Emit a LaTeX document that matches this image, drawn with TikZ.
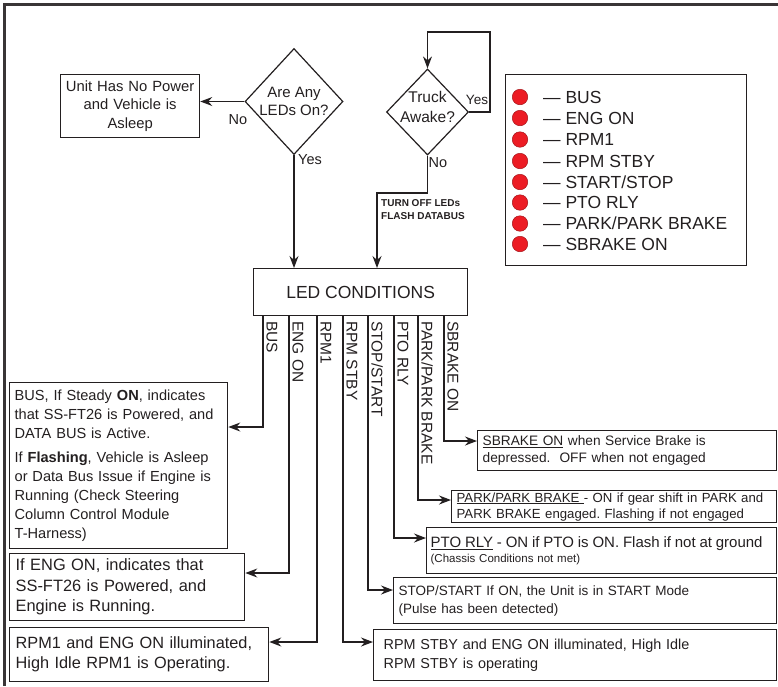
\documentclass[tikz,border=0pt]{standalone}
\usepackage{fontspec}
\setmainfont{Liberation Sans}
\usetikzlibrary{shapes.geometric,arrows.meta}
\definecolor{ink}{HTML}{231F20}
\definecolor{ledred}{HTML}{EC1C24}
\newcommand\fsz[2]{\fontsize{#1}{#2}\selectfont}
\frenchspacing
\begin{document}
\begin{tikzpicture}[x=1pt,y=-1pt,
  every node/.style={text=ink},
  box/.style={draw=ink, line width=1.3pt, anchor=north west, align=left, inner ysep=0pt},
  conn/.style={draw=ink, line width=1.2pt},
  arr/.style={conn, -{Stealth[length=12pt,width=9pt,inset=4pt]}},
  dia/.style={draw=ink, line width=1.2pt, diamond, inner sep=0pt},
  led/.style={circle, fill=ledred, draw=ledred!70!black, line width=0.5pt, minimum size=15.5pt, inner sep=0pt},
  ledlab/.style={anchor=west, inner sep=0pt, font=\fsz{17.5}{20}},
  rot/.style={rotate=-90, anchor=south west, inner sep=0pt, text depth=0pt, font=\fsz{15.5}{18}},
  lbl/.style={inner sep=0pt, font=\fsz{14.5}{17}},
]
\useasboundingbox (0,0) rectangle (778,686);
% frame
\draw[line width=3pt, draw=ink!90] (4.5,686) -- (4.5,4.5) -- (778,4.5);

% decision 1
\node[dia, minimum width=98pt, minimum height=106pt,
  label={[font=\fsz{15}{18.5}, align=center, text=ink]center:Are Any\\LEDs On?}] (d1) at (294,101.5) {};
\node[box, text width=129pt, inner xsep=5pt, minimum height=63pt, align=center, font=\fsz{14.8}{18.5}] (unit) at (60,74) {Unit Has No Power\\and Vehicle is\\Asleep};
\draw[arr] (d1.west) -- (d1.west -| unit.east);
\node[lbl] (no1) at (238,120) {No};
\node[lbl] (yes1) at (310,160) {Yes};

% decision 2
\node[dia, minimum width=82pt, minimum height=86pt,
  label={[font=\fsz{15.5}{20}, align=center, text=ink, yshift=5pt]center:Truck\\Awake?}] (d2) at (427.5,112) {};
\coordinate (loopA) at (490,32);
\draw[arr] (d2.east) -| (loopA) -| (d2.north);
\node[lbl, font=\fsz{13.5}{16}] (yes2) at (477,100) {Yes};
\node[lbl] (no2) at (438,163) {No};
\coordinate (turn) at (377,193);
\node[anchor=north west, inner sep=0pt, align=left, font=\bfseries\fsz{10}{13}] (turntxt) at (381,199.5) {TURN OFF LEDs\\FLASH DATABUS};

% LED conditions
\node[box, minimum width=214pt, minimum height=47pt, align=center, font=\fsz{17.5}{20}] (ledc) at (253,268) {LED CONDITIONS};
\draw[arr] (d1.south) -- (d1.south |- ledc.north);
\draw[arr] (d2.south) |- (turn) -- (turn |- ledc.north);

% legend
\node[draw=ink, line width=1.3pt, anchor=north west, minimum width=241pt, minimum height=191pt] (legend) at (505,74) {};
\node[led] (led1) at (520,97) {};   \node[ledlab] (t1) at (543,97) {— BUS};
\node[led] (led2) at (520,118) {};  \node[ledlab] (t2) at (543,118) {— ENG ON};
\node[led] (led3) at (520,139.5) {};\node[ledlab] (t3) at (543,139.5) {— RPM1};
\node[led] (led4) at (520,161) {};  \node[ledlab] (t4) at (543,161) {— RPM STBY};
\node[led] (led5) at (520,182) {};  \node[ledlab] (t5) at (543,182) {— START/STOP};
\node[led] (led6) at (520,202.5) {};\node[ledlab] (t6) at (543,202.5) {— PTO RLY};
\node[led] (led7) at (520,223.5) {};\node[ledlab] (t7) at (543,223.5) {— PARK/PARK BRAKE};
\node[led] (led8) at (520,244) {};  \node[ledlab] (t8) at (543,244) {— SBRAKE ON};

% result boxes
\node[box, text width=208pt, inner xsep=5pt, minimum height=166pt, font=\fsz{14.6}{19}] (bus) at (9,382)
 {BUS, If Steady \textbf{ON}, indicates\\that SS-FT26 is Powered, and\\DATA BUS is Active.\\[5pt]If \textbf{Flashing}, Vehicle is Asleep\\or Data Bus Issue if Engine is\\Running (Check Steering\\Column Control Module\\T-Harness)};
\node[box, text width=223pt, inner xsep=6pt, minimum height=67pt, font=\fsz{16.4}{20.5}] (eng) at (9,553)
 {If ENG ON, indicates that\\SS-FT26 is Powered, and\\Engine is Running.};
\node[box, text width=247pt, inner xsep=6pt, minimum height=54pt, font=\fsz{16.3}{20}] (rpm1) at (9,627)
 {RPM1 and ENG ON illuminated,\\High Idle RPM1 is Operating.};
\node[box, text width=383pt, inner xsep=10pt, minimum height=51pt, font=\fsz{14.4}{19}] (stby) at (373,629)
 {RPM STBY and ENG ON illuminated, High Idle\\RPM STBY is operating};
\node[box, text width=373pt, inner xsep=5pt, minimum height=46pt, font=\fsz{13.5}{18}] (stop) at (393,577)
 {STOP/START If ON, the Unit is in START Mode\\(Pulse has been detected)};
\node[box, text width=342pt, inner xsep=4pt, minimum height=46pt, font=\fsz{11.5}{14.5}] (pto) at (426,527)
 {{\fsz{15}{14.5}\underline{PTO RLY} - ON if PTO is ON. Flash if not at ground}\\(Chassis Conditions not met)};
\node[box, text width=315pt, inner xsep=5pt, minimum height=32pt, font=\fsz{13.2}{16}] (park) at (451,490)
 {\underline{PARK/PARK BRAKE\ }- ON if gear shift in PARK and\\PARK BRAKE engaged. Flashing if not engaged};
\node[box, text width=289pt, inner xsep=5pt, minimum height=40pt, font=\fsz{13.7}{17}] (sbrake) at (477,430)
 {\underline{SBRAKE ON} when Service Brake is\\depressed.\ \ OFF when not engaged};

% branches
\coordinate (b1) at (263,427);
\coordinate (b2) at (289,573);
\coordinate (b3) at (317,642);
\coordinate (b4) at (343,642);
\coordinate (b5) at (368,590);
\coordinate (b6) at (394,538);
\coordinate (b7) at (418,500);
\coordinate (b8) at (444,441);
\draw[arr] (ledc.south -| b1) |- (bus.east |- b1);
\draw[arr] (ledc.south -| b2) |- (eng.east |- b2);
\draw[arr] (ledc.south -| b3) |- (rpm1.east |- b3);
\draw[arr] (ledc.south -| b4) |- (stby.west |- b4);
\draw[arr] (ledc.south -| b5) |- (stop.west |- b5);
\draw[arr] (ledc.south -| b6) |- (pto.west |- b6);
\draw[arr] (ledc.south -| b7) |- (park.west |- b7);
\draw[arr] (ledc.south -| b8) |- (sbrake.west |- b8);

\node[rot] (r1) at (266.5,321) {BUS};
\node[rot] (r2) at (292.5,321) {ENG ON};
\node[rot] (r3) at (320.5,321) {RPM1};
\node[rot] (r4) at (346.5,321) {RPM STBY};
\node[rot] (r5) at (371.5,321) {STOP/START};
\node[rot] (r6) at (397.5,321) {PTO RLY};
\node[rot] (r7) at (421.5,321) {PARK/PARK BRAKE};
\node[rot] (r8) at (447.5,321) {SBRAKE ON};
\end{tikzpicture}
\end{document}
